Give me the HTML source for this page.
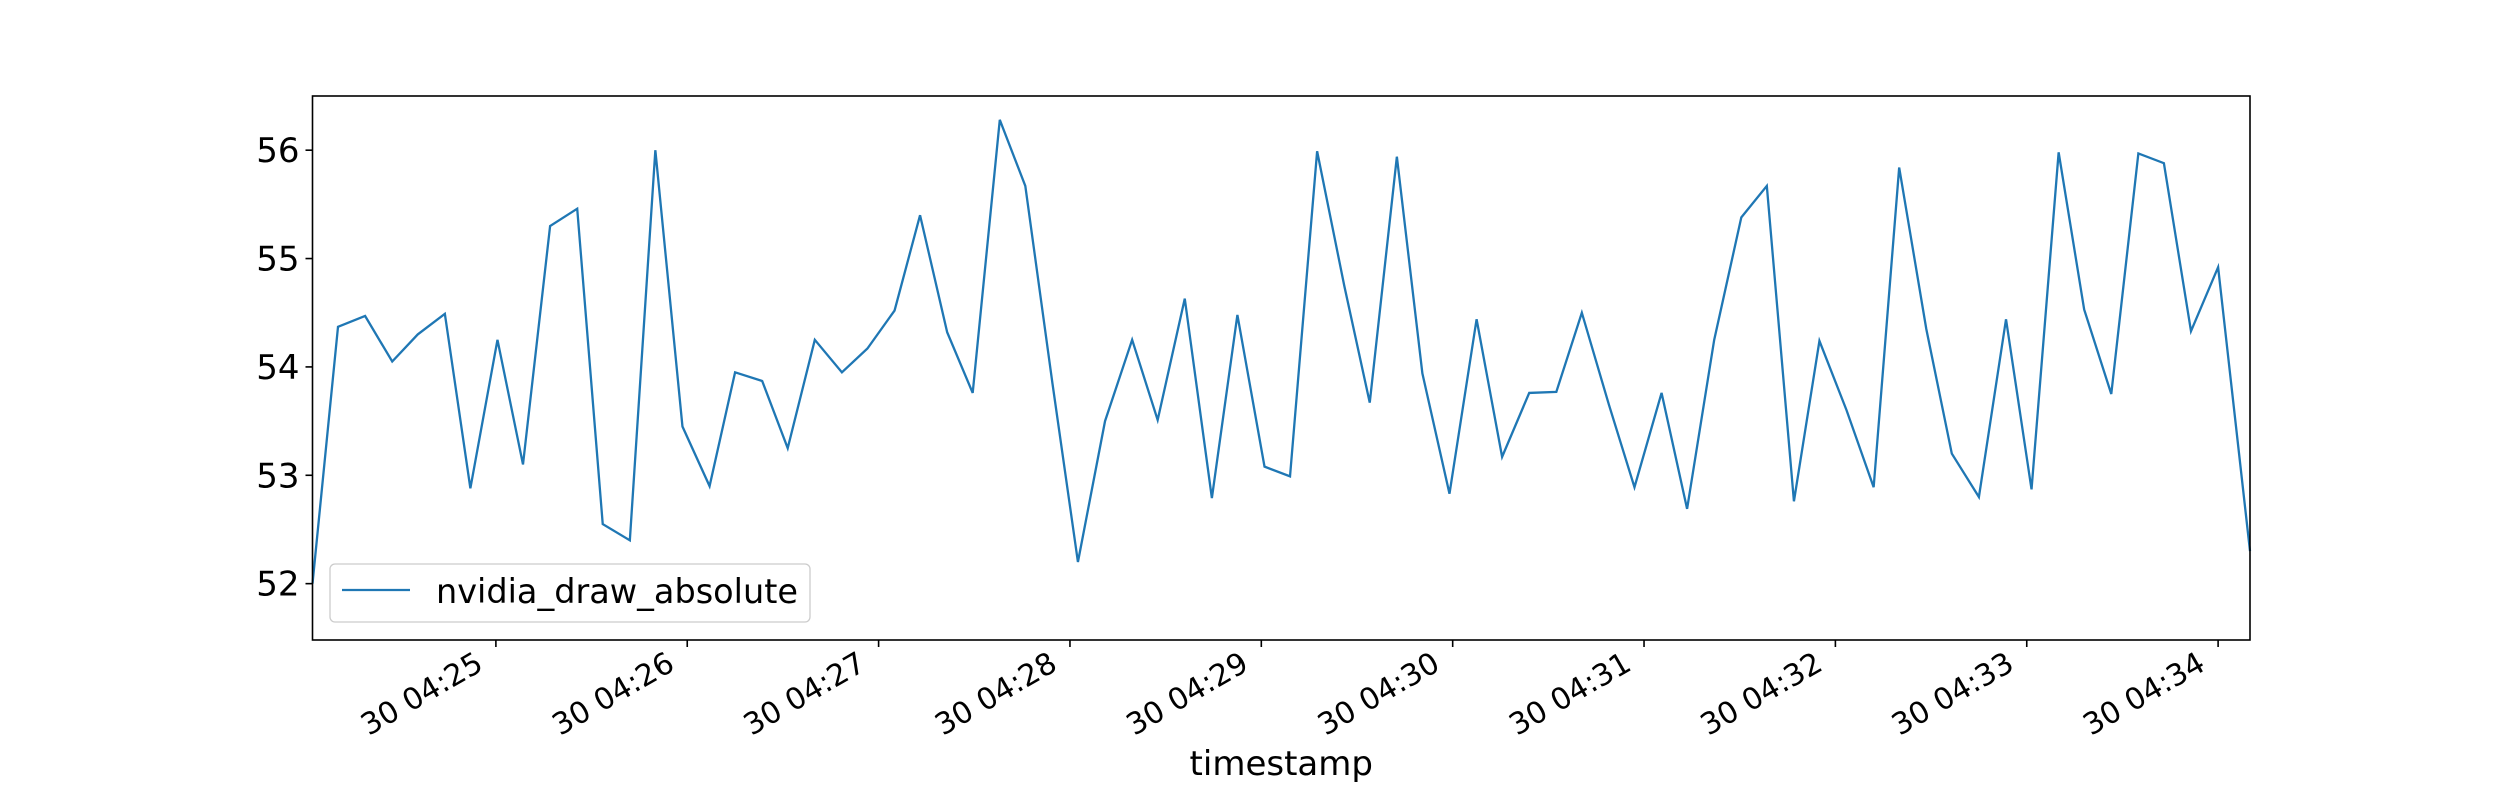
<!DOCTYPE html>
<html><head><meta charset="utf-8"><style>
html,body{margin:0;padding:0;background:#fff;}
svg{display:block;font-family:"DejaVu Sans","Liberation Sans",sans-serif;}
</style></head><body>
<svg id="chart" width="2500" height="800" viewBox="0 0 2500 800" xmlns="http://www.w3.org/2000/svg">
<rect width="2500" height="800" fill="#fff"/>
<g id="plot"></g>
</svg>
<script>
// seconds after 04:24:00
const times = [2.5,10.5,19,27.5,35.5,44,52,60.5,68.5,77,85.5,93.5,102,110,118.5,127,135,143.5,151.5,160,168.5,176.5,185,193,201.5,209.5,218,226,234.5,242.5,251,259.5,267.5,276,284.5,292.5,301,309,317.5,326,334,342.5,350.5,359,367.5,375.5,384,392.5,400.5,409,417,425.5,433.5,442,450.5,458.5,467,475,483.5,492,500,508.5,516.5,525,533.5,541.5,550,558,566.5,575,583,591.5,600,610];
const values = [52.0,54.37,54.47,54.05,54.3,54.49,52.88,54.25,53.1,55.3,55.46,52.55,52.4,56.0,53.45,52.9,53.95,53.87,53.25,54.25,53.95,54.17,54.52,55.4,54.32,53.76,56.28,55.67,53.85,52.2,53.5,54.25,53.51,54.63,52.79,54.48,53.08,52.99,55.99,54.75,53.67,55.94,53.94,52.83,54.44,53.17,53.76,53.77,54.5,53.65,52.89,53.76,52.69,54.25,55.38,55.67,52.76,54.24,53.6,52.89,55.84,54.35,53.2,52.8,54.44,52.87,55.98,54.53,53.75,55.97,55.88,54.33,54.92,52.3];
const yTicks = [52,53,54,55,56];
const xTickSecs = [60,120,180,240,300,360,420,480,540,600];
const xTickLabels = ["30 04:25","30 04:26","30 04:27","30 04:28","30 04:29","30 04:30","30 04:31","30 04:32","30 04:33","30 04:34"];
const seriesName = "nvidia_draw_absolute";

const L=312.5,R=2250,T=96,B=640;
const xMin=2.5,xMax=610,yMin=51.48,yMax=56.5;
const NS="http://www.w3.org/2000/svg";
const g=document.getElementById('plot');
function X(t){return L+(t-xMin)/(xMax-xMin)*(R-L);}
function Y(v){return B-(v-yMin)/(yMax-yMin)*(B-T);}
function mk(tag,attrs,parent){const e=document.createElementNS(NS,tag);for(const k in attrs)e.setAttribute(k,attrs[k]);(parent||g).appendChild(e);return e;}

const n=Math.min(times.length,values.length);
let d='';
for(let i=0;i<n;i++){d+=(i?'L':'M')+X(times[i]).toFixed(2)+' '+Y(values[i]).toFixed(2);}
const line=mk('path',{d:d,fill:'none',stroke:'#1f77b4','stroke-width':2.3,'stroke-linejoin':'miter'});



const frame=mk('rect',{x:L,y:T,width:R-L,height:B-T,fill:'none',stroke:'#000','stroke-width':1.6});



yTicks.forEach(v=>{
  const y=Y(v);
  const tk=mk('line',{x1:L-7,x2:L,y1:y,y2:y,stroke:'#000','stroke-width':1.6});
  
  
  const t=mk('text',{x:L-13,y:y+12,'text-anchor':'end','font-size':34,fill:'#000'});
  t.textContent=v;
  
  
});
xTickSecs.forEach((s,i)=>{
  const x=X(s);
  const tk=mk('line',{x1:x,x2:x,y1:B,y2:B+7,stroke:'#000','stroke-width':1.6});
  
  
  const tx=x-11, ty=669;
  const t=mk('text',{x:tx,y:ty,'text-anchor':'end','font-size':30,fill:'#000',transform:`rotate(-30 ${tx} ${ty})`});
  t.textContent=xTickLabels[i];
  
  
});
const xl=mk('text',{x:(L+R)/2,y:775,'text-anchor':'middle','font-size':34,fill:'#000'});
xl.textContent='timestamp';



const lg=mk('g',{});


mk('rect',{x:330,y:564,width:480,height:58,rx:5,fill:'#fff','fill-opacity':0.8,stroke:'#ccc','stroke-width':1.3},lg);
const ls=mk('line',{x1:342,x2:410,y1:590,y2:590,stroke:'#1f77b4','stroke-width':2.3},lg);


const lt=mk('text',{x:436,y:603,'font-size':33.5,fill:'#000'},lg);
lt.textContent=seriesName;


</script>
</body></html>
